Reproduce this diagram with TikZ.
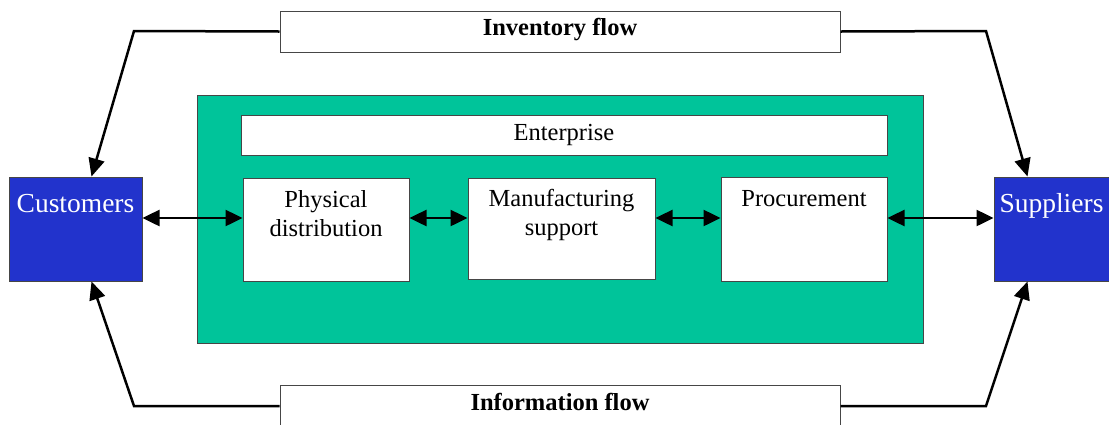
\documentclass[tikz,border=0pt]{standalone}
\usepackage{fontspec}
\setmainfont{Liberation Serif}
\usetikzlibrary{arrows.meta,calc}
\definecolor{entgreen}{RGB}{0,196,154}
\definecolor{partyblue}{RGB}{34,51,204}
\definecolor{edgegray}{RGB}{70,70,70}
\tikzset{
  box/.style={draw=edgegray,line width=1pt,fill=white,minimum width=#1,inner sep=0pt},
  party/.style={draw=edgegray,line width=1pt,fill=partyblue,inner sep=0pt},
  flowline/.style={line width=2.5pt,line join=miter,-{Triangle[length=18pt,width=16pt]}},
  twoway/.style={line width=2.5pt,{Triangle[length=17pt,width=16pt]}-{Triangle[length=17pt,width=16pt]}},
  lbl/.style={inner sep=0pt,font=\fontsize{24.5}{29}\selectfont,align=center},
  blbl/.style={inner sep=0pt,font=\fontsize{24.5}{29}\selectfont\bfseries},
  wlbl/.style={inner sep=0pt,font=\fontsize{27.5}{32}\selectfont,text=white},
}
\begin{document}
\begin{tikzpicture}[x=1pt,y=-1pt]
\useasboundingbox (0,0) rectangle (1109,424);
% enterprise area
\node[draw=edgegray,line width=1pt,fill=entgreen,minimum width=726pt,minimum height=248pt,inner sep=0pt] (ent) at (560,219) {};
\node[box=646pt,minimum height=40pt] (entbar) at (564,135) {};
\node[lbl,anchor=base] (enttxt) at (564,140) {Enterprise};
% inner boxes
\node[box=166pt,minimum height=103pt] (pd) at (326,229.5) {};
\node[box=187pt,minimum height=101pt] (ms) at (561.5,228.5) {};
\node[box=166pt,minimum height=104pt] (pr) at (804,229) {};
\node[lbl,anchor=north] (pdtxt) at (326,190.5) {Physical\\distribution};
\node[lbl,anchor=north] (mstxt) at (561.5,189.5) {Manufacturing\\support};
\node[lbl,anchor=north] (prtxt) at (804,190.5) {Procurement};
% parties
\node[party,minimum width=133pt,minimum height=104pt] (cust) at (75.5,229) {};
\node[wlbl,anchor=base] (custtxt) at (75.5,212) {Customers};
\node[party,minimum width=115pt,minimum height=104pt] (supp) at (1051.5,229) {};
\node[wlbl,anchor=base] (supptxt) at (1051.5,212) {Suppliers};
% flow boxes
\node[box=560pt,minimum height=41pt] (inv) at (560,31.5) {};
\node[blbl,anchor=base] (invtxt) at (560,35) {Inventory flow};
\node[box=560pt,minimum height=42pt] (info) at (560,406) {};
\node[blbl,anchor=base] (infotxt) at (560,410) {Information flow};
% corner points
\coordinate (ctl) at (134,31);
\coordinate (ctr) at (986,31);
\coordinate (cbl) at (134,406);
\coordinate (cbr) at (986,406);
% flow connectors
\draw[flowline] (inv.west) -- (ctl) -- ($(cust.north west)+(83,0)$);
\draw[flowline] (inv.east) -- (ctr) -- ($(supp.north west)+(34,0)$);
\draw[flowline] (info.west) -- (cbl) -- ($(cust.south west)+(83,0)$);
\draw[flowline] (info.east) -- (cbr) -- ($(supp.south west)+(34,0)$);
% horizontal two-way arrows
\draw[twoway] (cust.east |- 0,218) -- (pd.west |- 0,218);
\draw[twoway] (pd.east |- 0,218) -- (ms.west |- 0,218);
\draw[twoway] (ms.east |- 0,218) -- (pr.west |- 0,218);
\draw[twoway] (pr.east |- 0,218) -- (supp.west |- 0,218);
\end{tikzpicture}
\end{document}
